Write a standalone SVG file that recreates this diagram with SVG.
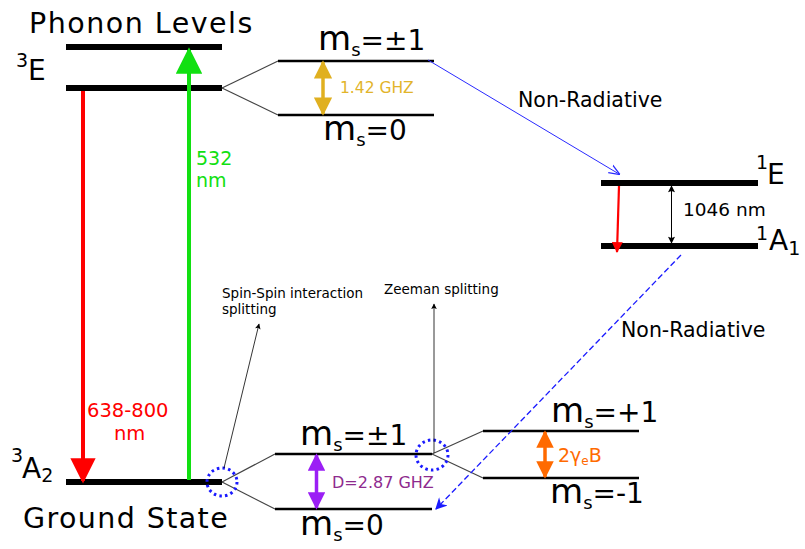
<svg xmlns="http://www.w3.org/2000/svg" width="805" height="549" viewBox="0 0 805 549">
<style>
text{font-family:"DejaVu Sans","Verdana",sans-serif;fill:#000}
.big{font-size:28.5px;letter-spacing:1.5px}
.lbl{font-size:28px}
.sup{font-size:19px}
.m{font-size:34px}
.s{font-size:18px}
.eq{font-size:28px}
.lvl{stroke:#000;stroke-width:6}
.thin{stroke:#000;stroke-width:2.5}
.conn{stroke:#444;stroke-width:1.2;fill:none}
.ann{font-size:13.5px}
.nr{font-size:20.5px}
.circ{fill:none;stroke:#1a1aff;stroke-width:3;stroke-dasharray:2.5,3.2}
</style>
<defs>
<marker id="ahRed" viewBox="0 0 10 10" refX="9" refY="5" markerWidth="8" markerHeight="6.3" orient="auto" markerUnits="strokeWidth"><path d="M0,0 L10,5 L0,10 Z" fill="#ff0000"/></marker>
<marker id="ahGreen" viewBox="0 0 10 10" refX="9" refY="5" markerWidth="7.5" markerHeight="6.6" orient="auto" markerUnits="strokeWidth"><path d="M0,0 L10,5 L0,10 Z" fill="#11e011"/></marker>
<marker id="ahGold" viewBox="0 0 10 10" refX="9" refY="5" markerWidth="5.7" markerHeight="5.2" orient="auto-start-reverse" markerUnits="strokeWidth"><path d="M0,0 L10,5 L0,10 Z" fill="#e0b020"/></marker>
<marker id="ahPurple" viewBox="0 0 10 10" refX="9" refY="5" markerWidth="5.7" markerHeight="5" orient="auto-start-reverse" markerUnits="strokeWidth"><path d="M0,0 L10,5 L0,10 Z" fill="#9b1ff5"/></marker>
<marker id="ahOrange" viewBox="0 0 10 10" refX="9" refY="5" markerWidth="5.5" markerHeight="5" orient="auto-start-reverse" markerUnits="strokeWidth"><path d="M0,0 L10,5 L0,10 Z" fill="#ff6a00"/></marker>
<marker id="ahRed2" viewBox="0 0 10 10" refX="9" refY="5" markerWidth="6" markerHeight="5" orient="auto" markerUnits="strokeWidth"><path d="M0,0 L10,5 L0,10 Z" fill="#ff0000"/></marker>
<marker id="ahBlk" viewBox="0 0 10 10" refX="9" refY="5" markerWidth="9" markerHeight="7" orient="auto-start-reverse" markerUnits="strokeWidth"><path d="M0,0 L10,5 L0,10 L2,5 Z" fill="#000"/></marker>
<marker id="ahBlue" viewBox="0 0 10 10" refX="9" refY="5" markerWidth="11" markerHeight="11" orient="auto" markerUnits="strokeWidth"><path d="M0,1 L10,5 L0,9" fill="none" stroke="#2a2aff" stroke-width="1.2"/></marker>
<marker id="ahBlue2" viewBox="0 0 10 10" refX="9" refY="5" markerWidth="10" markerHeight="9" orient="auto" markerUnits="strokeWidth"><path d="M0,0 L10,5 L0,10 L3,5 Z" fill="#1a1aff"/></marker>
</defs>

<text class="big" x="29" y="33">Phonon Levels</text>

<g id="phonon"><line class="lvl" x1="66" y1="47" x2="222" y2="47"/></g>
<g id="E3"><line class="lvl" x1="66" y1="88" x2="222" y2="88"/>
<text class="sup" x="16" y="67">3</text><text class="lbl" x="28" y="80">E</text></g>

<g id="E3-split">
<line class="thin" x1="278" y1="61" x2="434" y2="61"/>
<line class="thin" x1="278" y1="115" x2="434" y2="115"/>
<text x="318" y="50"><tspan class="m">m</tspan><tspan class="s" dy="6">s</tspan><tspan class="eq" dy="-6">=±1</tspan></text>
<text x="323" y="140"><tspan class="m">m</tspan><tspan class="s" dy="6">s</tspan><tspan class="eq" dy="-6">=0</tspan></text>
<text x="340" y="93" font-size="15.5" style="fill:#e2b42a">1.42 GHZ</text>
</g>

<g id="A3"><line class="lvl" x1="66" y1="482" x2="222" y2="482"/>
<text class="sup" x="11" y="462">3</text><text class="lbl" x="22" y="478">A<tspan font-size="19" dy="4">2</tspan></text>
<text class="big" x="23" y="528" style="letter-spacing:1.4px">Ground State</text></g>

<g id="A3-split">
<line class="thin" x1="275" y1="454" x2="432" y2="454"/>
<line class="thin" x1="275" y1="509" x2="432" y2="509"/>
<text x="300" y="445"><tspan class="m">m</tspan><tspan class="s" dy="6">s</tspan><tspan class="eq" dy="-6">=±1</tspan></text>
<text x="300" y="535"><tspan class="m">m</tspan><tspan class="s" dy="6">s</tspan><tspan class="eq" dy="-6">=0</tspan></text>
<text x="332" y="488" font-size="16" style="fill:#8e2a8e">D=2.87 GHZ</text>
</g>

<g id="zeeman">
<line class="thin" x1="483" y1="431" x2="639" y2="431"/>
<line class="thin" x1="483" y1="478" x2="639" y2="478"/>
<text x="551" y="422"><tspan class="m">m</tspan><tspan class="s" dy="6">s</tspan><tspan class="eq" dy="-6">=+1</tspan></text>
<text x="550" y="503"><tspan class="m">m</tspan><tspan class="s" dy="6">s</tspan><tspan class="eq" dy="-6">=-1</tspan></text>
<text x="558" y="462" font-size="19" style="fill:#ff6a00">2γ<tspan font-size="12" dy="3">e</tspan><tspan dy="-3">B</tspan></text>
</g>

<g id="E1"><line class="lvl" x1="601" y1="183" x2="758" y2="183"/>
<text class="sup" x="756" y="169">1</text><text class="lbl" x="767" y="184">E</text></g>
<g id="A1"><line class="lvl" x1="601" y1="246" x2="758" y2="246"/>
<text class="sup" x="756" y="240">1</text><text class="lbl" x="769" y="250">A<tspan font-size="19" dy="5">1</tspan></text>
<text x="683" y="216" font-size="18.5">1046 nm</text></g>

<g id="connectors">
<line class="conn" x1="222" y1="88" x2="278" y2="61"/>
<line class="conn" x1="222" y1="88" x2="278" y2="115"/>
<line class="conn" x1="222" y1="482" x2="275" y2="454"/>
<line class="conn" x1="222" y1="482" x2="275" y2="509"/>
<line class="conn" x1="432" y1="454" x2="483" y2="431"/>
<line class="conn" x1="432" y1="454" x2="483" y2="478"/>

<line x1="83" y1="91" x2="83" y2="481" stroke="#ff0000" stroke-width="4" marker-end="url(#ahRed)"/>
<line x1="189" y1="480" x2="189" y2="50" stroke="#11e011" stroke-width="4" marker-end="url(#ahGreen)"/>
<text x="196" y="165" font-size="19" style="fill:#11e011">532</text>
<text x="196" y="187" font-size="19" style="fill:#11e011">nm</text>
<text x="87" y="417" font-size="19.5" style="fill:#ff0000">638-800</text>
<text x="114" y="440" font-size="19.5" style="fill:#ff0000">nm</text>

<line x1="323" y1="62" x2="323" y2="114" stroke="#e0b020" stroke-width="3.5" marker-start="url(#ahGold)" marker-end="url(#ahGold)"/>
<line x1="316.5" y1="455" x2="316.5" y2="508" stroke="#9b1ff5" stroke-width="3.5" marker-start="url(#ahPurple)" marker-end="url(#ahPurple)"/>
<line x1="545" y1="432" x2="545" y2="477" stroke="#ff6a00" stroke-width="3.5" marker-start="url(#ahOrange)" marker-end="url(#ahOrange)"/>

<line x1="619" y1="186" x2="617" y2="252" stroke="#ff0000" stroke-width="2.2" marker-end="url(#ahRed2)"/>
<line x1="671.5" y1="186" x2="671.5" y2="243" stroke="#000" stroke-width="1" marker-start="url(#ahBlk)" marker-end="url(#ahBlk)"/>

<line x1="428" y1="60" x2="619" y2="174" stroke="#2a2aff" stroke-width="1" marker-end="url(#ahBlue)"/>
<text class="nr" x="518" y="107">Non-Radiative</text>
<line x1="681" y1="255" x2="436" y2="509" stroke="#1a1aff" stroke-width="1.3" stroke-dasharray="6,3" marker-end="url(#ahBlue2)"/>
<text class="nr" x="621" y="337">Non-Radiative</text>

<ellipse class="circ" cx="222" cy="482" rx="15" ry="14"/>
<ellipse class="circ" cx="432" cy="455" rx="16" ry="15"/>
<line x1="224" y1="468" x2="259" y2="324" stroke="#000" stroke-width="0.8" marker-end="url(#ahBlk)"/>
<line x1="434" y1="453" x2="434" y2="304" stroke="#000" stroke-width="0.8" marker-end="url(#ahBlk)"/>
<text class="ann" x="222" y="298">Spin-Spin interaction</text>
<text class="ann" x="222" y="314">splitting</text>
<text class="ann" x="384" y="294">Zeeman splitting</text>
</g>
</svg>
